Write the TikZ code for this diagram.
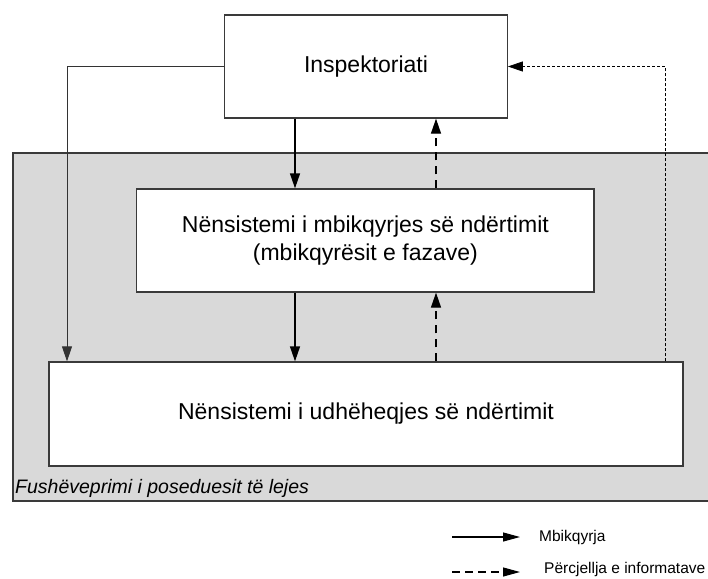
\documentclass[tikz,border=0pt]{standalone}
\usepackage{fontspec}
\setmainfont{Liberation Sans}
\usetikzlibrary{arrows.meta}
\definecolor{zone}{HTML}{D9D9D9}
\definecolor{edge}{HTML}{3A3A3A}
\tikzset{
  box/.style={draw=edge, line width=1.3pt, fill=white, inner sep=0pt, align=center,
    font=\fontsize{23}{28}\selectfont},
  arr/.style={line width=1.3pt, -{Triangle[length=15pt,width=10pt]}},
  darr/.style={line width=1.3pt, dash pattern=on 8pt off 6pt, -{Triangle[length=15pt,width=10pt]}},
  thinline/.style={line width=0.9pt, draw=black!80},
  dotline/.style={line width=0.8pt, dash pattern=on 3pt off 2pt},
  legarr/.style={line width=1.1pt, -{Triangle[length=17pt,width=9pt]}},
  legdarr/.style={line width=1.1pt, dash pattern=on 8pt off 5pt, -{Triangle[length=17pt,width=9pt]}},
  legtext/.style={anchor=west, inner sep=0pt, font=\fontsize{15.5}{18}\selectfont},
}
\begin{document}
\begin{tikzpicture}[x=1pt,y=-1pt]
\useasboundingbox (0,0) rectangle (708,578);
% zone
\draw[draw=edge, line width=1.3pt, fill=zone] (13,153) rectangle (730,501);
\node[anchor=base west, inner sep=0pt, font=\fontsize{19.5}{23}\selectfont\itshape] (zonelabel) at (15,493) {Fushëveprimi i poseduesit të lejes};
% boxes
\node[box, minimum width=282.5pt, minimum height=103pt] (insp) at (366,66.5) {Inspektoriati};
\node[box, minimum width=457.3pt, minimum height=103pt] (mid) at (365.4,240.5) {Nënsistemi i mbikqyrjes së ndërtimit\\(mbikqyrësit e fazave)};
\node[box, minimum width=634pt, minimum height=104pt] (bot) at (366,414) {Nënsistemi i udhëheqjes së ndërtimit};
% helper columns
\coordinate (cs) at (295,0);
\coordinate (cd) at (436,0);
\coordinate (cl) at (67,0);
\coordinate (cr) at (665,0);
% connectors
\draw[arr] (insp.south -| cs) -- (mid.north -| cs);
\draw[arr] (mid.south -| cs) -- (bot.north -| cs);
\draw[darr] (mid.north -| cd) -- (insp.south -| cd);
\draw[darr] (bot.north -| cd) -- (mid.south -| cd);
\draw[thinline, -{Triangle[length=15pt,width=10pt]}] (insp.west) -| (cl |- bot.north);
\draw[dotline, -{Triangle[length=15pt,width=10pt]}] (cr |- bot.north) |- (insp.east);
% legend
\node[legtext] (lsup) at (539,537) {Mbikqyrja};
\node[legtext, anchor=base west] (linf) at (544,573.5) {Përcjellja e informatave};
\coordinate (l1a) at (452,537);
\coordinate (l1b) at (520,537);
\coordinate (l2a) at (452,572);
\coordinate (l2b) at (520,572);
\draw[legarr] (l1a) -- (l1b);
\draw[legdarr] (l2a) -- (l2b);
\end{tikzpicture}
\end{document}
